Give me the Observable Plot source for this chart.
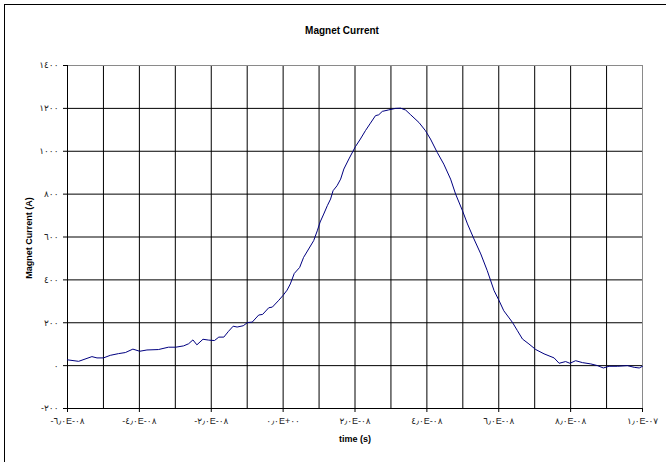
<!DOCTYPE html>
<html>
<head>
<meta charset="utf-8">
<script src="https://cdn.jsdelivr.net/npm/d3@7"></script>
<script src="https://cdn.jsdelivr.net/npm/@observablehq/plot@0.6"></script>
<style>
  html, body { margin: 0; padding: 0; background: #fff; }
  #wrap { position: relative; width: 669px; height: 462px; overflow: hidden; }
  #border { position: absolute; left: 4px; top: 4px; width: 661px; height: 470px;
            border-top: 1px solid #000; border-left: 1px solid #000; pointer-events: none; }
  svg { font-family: Arial, "Liberation Sans", "DejaVu Sans", sans-serif; }
</style>
</head>
<body>
<div id="wrap"><div id="border"></div></div>
<script>
// time (s)
const timeValues = [
  -6.00e-8, -5.69e-8, -5.32e-8, -5.18e-8, -5.00e-8, -4.81e-8, -4.58e-8, -4.39e-8,
  -4.18e-8, -3.99e-8, -3.79e-8, -3.47e-8, -3.19e-8, -2.99e-8, -2.77e-8, -2.63e-8,
  -2.51e-8, -2.40e-8, -2.23e-8, -2.07e-8, -1.91e-8, -1.79e-8, -1.65e-8, -1.52e-8,
  -1.39e-8, -1.28e-8, -1.11e-8, -0.99e-8, -0.86e-8, -0.68e-8, -0.57e-8, -0.40e-8,
  -0.30e-8, -0.12e-8, 0.00e-8, 0.11e-8, 0.20e-8, 0.31e-8, 0.46e-8, 0.57e-8,
  0.71e-8, 0.85e-8, 0.95e-8, 1.03e-8, 1.13e-8, 1.23e-8, 1.32e-8, 1.39e-8,
  1.50e-8, 1.60e-8, 1.69e-8, 1.83e-8, 2.01e-8, 2.15e-8, 2.29e-8, 2.43e-8,
  2.57e-8, 2.66e-8, 2.76e-8, 2.94e-8, 3.13e-8, 3.27e-8, 3.41e-8, 3.55e-8,
  3.78e-8, 3.96e-8, 4.10e-8, 4.29e-8, 4.47e-8, 4.66e-8, 4.80e-8, 4.99e-8,
  5.13e-8, 5.31e-8, 5.50e-8, 5.68e-8, 5.87e-8, 6.01e-8, 6.14e-8, 6.38e-8,
  6.52e-8, 6.66e-8, 6.84e-8, 7.03e-8, 7.26e-8, 7.54e-8, 7.68e-8, 7.86e-8,
  7.98e-8, 8.14e-8, 8.33e-8, 8.56e-8, 8.75e-8, 8.91e-8, 9.07e-8, 9.30e-8,
  9.58e-8, 9.77e-8, 9.91e-8, 10.00e-8
];
// Magnet Current (A)
const currentValues = [
  27, 20, 42, 36, 36, 48, 56, 61,
  77, 67, 73, 75, 86, 86, 92, 102,
  120, 97, 123, 119, 117, 133, 133, 160,
  184, 180, 186, 201, 203, 236, 239, 270,
  273, 305, 328, 352, 381, 430, 458, 505,
  544, 583, 629, 670, 707, 746, 777, 816,
  839, 870, 917, 964, 1021, 1057, 1096, 1131,
  1166, 1170, 1186, 1193, 1200, 1201, 1192, 1170,
  1134, 1096, 1057, 994, 940, 870, 800, 723,
  661, 591, 521, 443, 350, 303, 256, 202,
  163, 124, 101, 75, 55, 36, 11, 19,
  11, 23, 14, 8, 0, -11, -3, -3,
  0, -8, -11, -3
];
const xTicks = [-6e-8, -4e-8, -2e-8, 0, 2e-8, 4e-8, 6e-8, 8e-8, 1e-7];
const xGrid = [-5e-8, -4e-8, -3e-8, -2e-8, -1e-8, 0, 1e-8, 2e-8, 3e-8, 4e-8, 5e-8, 6e-8, 7e-8, 8e-8, 9e-8];
const yTicks = [-200, 0, 200, 400, 600, 800, 1000, 1200, 1400];
const yGrid = [0, 200, 400, 600, 800, 1000, 1200];
const titleText = "Magnet Current";
const xLabel = "time (s)";
const yLabel = "Magnet Current (A)";

const data = timeValues.map((t, i) => ({t, a: currentValues[i]}));

const arabicDigits = "٠١٢٣٤٥٦٧٨٩";
const toArabic = s => s.replace(/[0-9]/g, d => arabicDigits[+d]).replace(/\./g, "٫");
function fmtX(v) {
  let s = v.toExponential(1); // e.g. -6.0e-8
  let [m, e] = s.split("e");
  let sign = e[0] === "-" ? "-" : "+";
  let ed = e.replace(/[+-]/, "").padStart(2, "0");
  return toArabic(m) + "E" + sign + toArabic(ed);
}
function fmtY(v) {
  return (v < 0 ? "-" : "") + toArabic(String(Math.abs(v)));
}

const chart = Plot.plot({
  width: 669,
  height: 462,
  marginLeft: 67,
  marginRight: 27,
  marginTop: 65,
  marginBottom: 54,
  style: {fontFamily: "Arial, 'Liberation Sans', 'DejaVu Sans', sans-serif", background: "transparent", overflow: "visible"},
  x: {domain: [-6e-8, 1e-7]},
  y: {domain: [-200, 1400]},
  marks: [
    Plot.ruleX(xGrid, {stroke: "#000", strokeWidth: 1}),
    Plot.ruleY(yGrid, {stroke: "#000", strokeWidth: 1}),
    Plot.ruleY([1400], {stroke: "#8a8a8a", strokeWidth: 1}),
    Plot.ruleX([1e-7], {stroke: "#8a8a8a", strokeWidth: 1}),
    Plot.ruleX([-6e-8], {stroke: "#000", strokeWidth: 1}),
    Plot.ruleY([-200], {stroke: "#000", strokeWidth: 1}),
    Plot.line(data, {x: "t", y: "a", stroke: "#000080", strokeWidth: 1}),
    Plot.axisY({ticks: yTicks, tickSize: 4, tickPadding: 5, tickFormat: fmtY, label: null, fontSize: 9, stroke: "#000", fill: "#222"}),
    Plot.axisX({ticks: xTicks, tickSize: 4, tickPadding: 5, tickFormat: fmtX, label: null, fontSize: 9, stroke: "#000", fill: "#222"}),
    Plot.text([titleText], {frameAnchor: "top", lineAnchor: "middle", textAnchor: "middle", dy: -35, dx: -13, fontSize: 10, fontWeight: "bold", fill: "#000"}),
    Plot.text([xLabel], {frameAnchor: "bottom", lineAnchor: "middle", textAnchor: "middle", dy: 31, fontSize: 9, fontWeight: "bold", fill: "#000"}),
    Plot.text([yLabel], {frameAnchor: "left", lineAnchor: "middle", textAnchor: "middle", dx: -38.5, dy: 1, rotate: -90, fontSize: 9, fontWeight: "bold", fill: "#000"})
  ]
});
document.getElementById("wrap").prepend(chart);
</script>
</body>
</html>
